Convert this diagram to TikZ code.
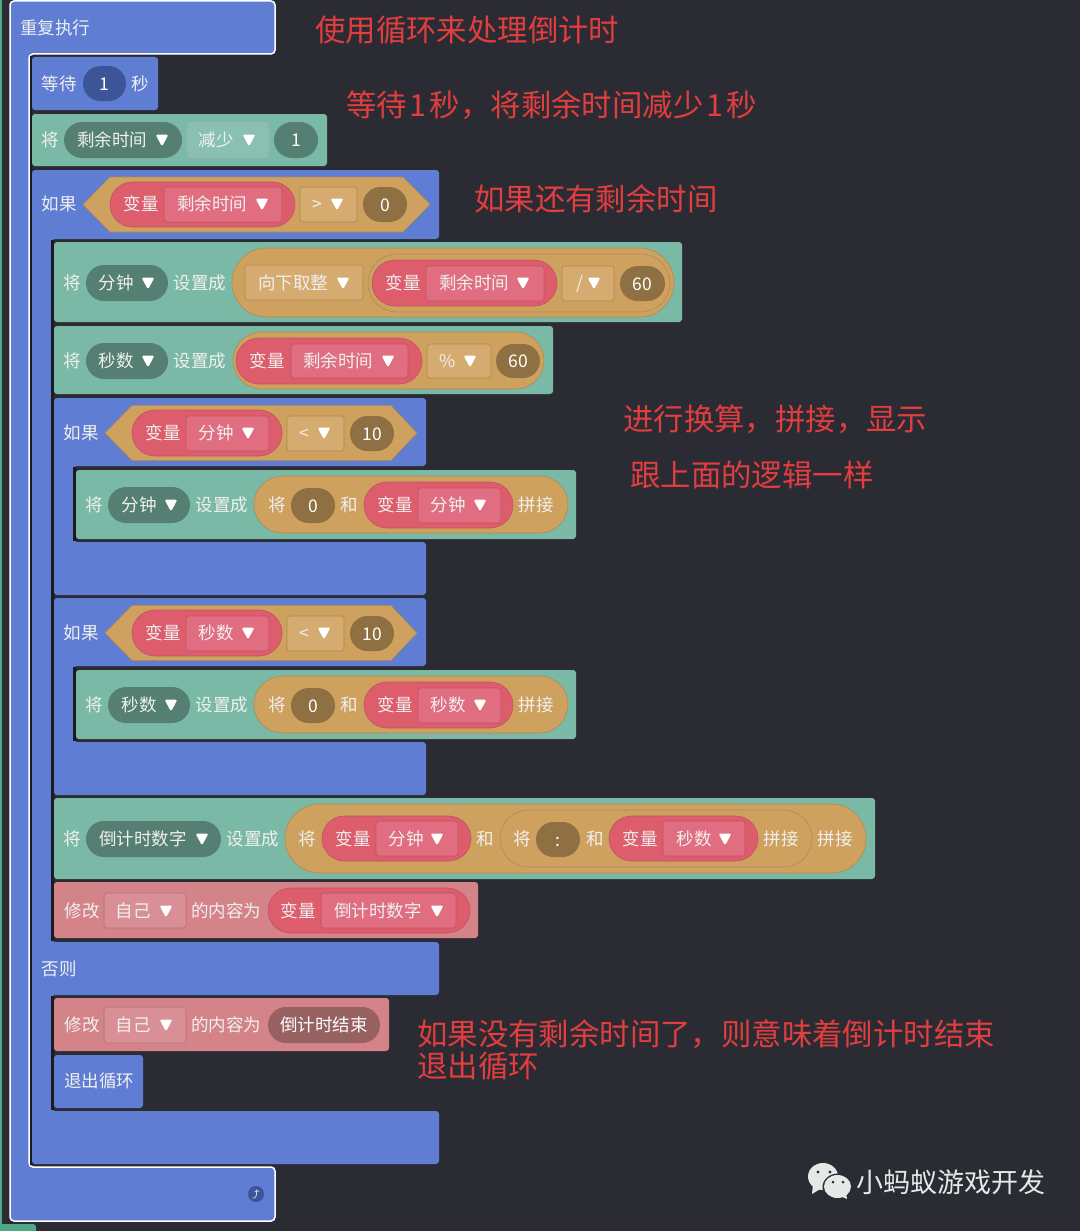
\documentclass[tikz,border=0pt]{standalone}
\usepackage{fontspec}
\setmainfont{Noto Sans CJK SC}
\usetikzlibrary{shapes.misc, positioning}

\definecolor{bgdark}{HTML}{2B2C33}
\definecolor{shadow}{HTML}{1B1C21}
\definecolor{stripgreen}{HTML}{4FA987}
\definecolor{ctrlblue}{HTML}{5E7DD3}
\definecolor{ctrlbluedark}{HTML}{3B5596}
\definecolor{vargreen}{HTML}{7BB9A7}
\definecolor{vargreendark}{HTML}{547F72}
\definecolor{vargreenlight}{HTML}{8AC0B1}
\definecolor{optan}{HTML}{CEA15F}
\definecolor{optanline}{HTML}{B08A52}
\definecolor{optanlight}{HTML}{D5AB70}
\definecolor{optandark}{HTML}{8E7042}
\definecolor{getred}{HTML}{DD5D6D}
\definecolor{getredline}{HTML}{BE5362}
\definecolor{getredlight}{HTML}{E06E80}
\definecolor{lookpink}{HTML}{D48488}
\definecolor{lookpinklight}{HTML}{D88F96}
\definecolor{lookpinkdark}{HTML}{976162}
\definecolor{notered}{HTML}{E23D3F}
\definecolor{marktext}{HTML}{E6E8E8}

\tikzstyle{object} = [
rectangle,
rounded corners=3pt,
inner sep=0pt,
outer sep=0pt]
\tikzstyle{pill} = [
rounded rectangle,
inner sep=0pt,
outer sep=0pt,
text=white,
font=\fontsize{17.5}{20}\selectfont,
text height=15pt,
text depth=2pt]
\tikzstyle{lbl} = [
inner sep=0pt,
text=white!94!black,
font=\fontsize{17.5}{20}\selectfont,
text height=15pt,
text depth=2pt]
\tikzstyle{note} = [
anchor=west,
inner sep=0pt,
text=notered,
font=\fontsize{30.4}{32}\selectfont,
text height=26pt,
text depth=3pt]
\tikzstyle{greenbox} = [object, fill=vargreen]
\tikzstyle{bluebox} = [object, fill=ctrlblue]
\tikzstyle{pinkbox} = [object, fill=lookpink]
\tikzstyle{greenmenu} = [object, fill=vargreenlight, draw=vargreendark!60, line width=0.6pt]
\tikzstyle{tanmenu} = [object, fill=optanlight, draw=optanline, line width=0.6pt]
\tikzstyle{redmenu} = [object, fill=getredlight, draw=getredline, line width=0.6pt]
\tikzstyle{pinkmenu} = [object, fill=lookpinklight, draw=lookpink!85!black, line width=0.6pt]
\tikzstyle{greenpill} = [pill, fill=vargreendark]
\tikzstyle{tanpill} = [pill, fill=optandark]
\tikzstyle{outerpill} = [pill, fill=optan, draw=optanline, line width=0.6pt]
\tikzstyle{redpill} = [pill, fill=getred, draw=getredline, line width=0.6pt]
\tikzstyle{shade} = [draw=shadow, line width=2.5pt]

\tikzset{dd/.pic={
\fill[white, rounded corners=2.2pt] (-6.5,-5.5) -- (6.5,-5.5) -- (0,6.5) -- cycle;}}

% style, name, left, top, right, bottom, text
\newcommand{\bx}[7]{%
\pgfmathsetmacro{\bxw}{(#5)-(#3)}%
\pgfmathsetmacro{\bxh}{(#6)-(#4)}%
\node[#1, minimum width=\bxw pt, minimum height=\bxh pt] (#2) at ({((#3)+(#5))/2},{((#4)+(#6))/2}) {#7};}

% hexagon of a condition: left tip, inner left, inner right, right tip, mid y, half height
\newcommand{\hexa}[6]{%
\draw[fill=optan, draw=optanline, line width=0.6pt] (#1,#5) -- (#2,#5-#6) -- (#3,#5-#6) -- (#4,#5)
    -- (#3,#5+#6) -- (#2,#5+#6) -- cycle;}

\begin{document}
\begin{tikzpicture}[x=1pt, y=-1pt]

\fill[bgdark] (0,0) rectangle (1080,1231);
\useasboundingbox (0,0) rectangle (1080,1231);
\fill[stripgreen] (0,0) rectangle (2,1231);
\fill[stripgreen, rounded corners=3pt] (0,1240) -- (0,1224) -- (36,1224) -- (36,1240) -- cycle;

% outer loop
\draw[fill=ctrlblue, draw=white, line width=1.5pt, rounded corners=4pt]
    (10,1) -- (275,1) -- (275,54) -- (29,54) -- (29,1167) -- (275,1167) -- (275,1221) -- (10,1221) -- cycle;
\draw[shade] (31,56) -- (31,1165);
\node[lbl, anchor=west] (loopText) at (20,28) {重复执行};
\node[circle, fill=ctrlbluedark, minimum size=16pt, inner sep=0pt] (loopIcon) at (256,1194) {};
\draw[white!70!ctrlblue, line width=0.8pt, ->] (252.5,1198) .. controls (256,1199) and (257,1195) .. (256.5,1189.5);

\bx{bluebox}{waitBlock}{32}{57}{158}{110}{}
\node[lbl] (waitText) at (59,84) {等待};
\bx{pill, fill=ctrlbluedark}{waitNum}{83}{66}{126}{101}{1}
\node[lbl] (waitUnit) at (140,84) {秒};

\bx{greenbox}{decBlock}{32}{114}{327}{166}{}
\node[lbl] (decText) at (50,140) {将};
\bx{greenpill}{decVar}{64}{122}{182}{158}{}
\node[lbl] (decVarText) at (112,140) {剩余时间};
\pic at (162,140) {dd};
\bx{greenmenu}{decMenu}{187}{122}{269}{158}{}
\node[lbl] (decMenuText) at (216,140) {减少};
\pic at (249,140) {dd};
\bx{greenpill}{decNum}{274}{122}{318}{158}{1}

% if ... else
\fill[ctrlblue, rounded corners=3pt] (32,170) -- (439,170) -- (439,239) -- (52,239) -- (52,942)
    -- (439,942) -- (439,995) -- (52,995) -- (52,1111) -- (439,1111) -- (439,1164) -- (32,1164) -- cycle;
\draw[shade] (52.5,240) -- (52.5,941);
\draw[shade] (52.5,996) -- (52.5,1110);
\node[lbl] (ifText) at (59,204) {如果};
\hexa{83}{110}{403}{430}{204.5}{27.5}
\bx{redpill}{ifVar}{110}{182}{295}{227}{}
\node[lbl] (ifVarText) at (141,204) {变量};
\bx{redmenu}{ifMenu}{164}{187}{282}{222}{}
\node[lbl] (ifMenuText) at (212,204) {剩余时间};
\pic at (262,204) {dd};
\bx{tanmenu}{ifOp}{300}{187}{357}{222}{}
\node[lbl] (ifOpText) at (317,204) {>};
\pic at (337,204) {dd};
\bx{tanpill}{ifNum}{363}{187}{407}{222}{0}
\node[lbl] (elseText) at (59,969) {否则};

% minutes
\bx{greenbox}{minBlock}{54}{242}{682}{322}{}
\node[lbl] (minText) at (72,283) {将};
\bx{greenpill}{minVar}{86}{265}{168}{301}{}
\node[lbl] (minVarText) at (116,283) {分钟};
\pic at (148,283) {dd};
\node[lbl] (minSet) at (200,283) {设置成};
\bx{outerpill}{minOuter}{232}{248}{674}{317}{}
\bx{tanmenu}{minFloor}{245}{265}{363}{300}{}
\node[lbl] (minFloorText) at (293,283) {向下取整};
\pic at (343,283) {dd};
\bx{outerpill}{minInner}{368}{254}{670}{312}{}
\bx{redpill}{minRed}{372}{260}{557}{306}{}
\node[lbl] (minRedText) at (403,283) {变量};
\bx{redmenu}{minMenu}{426}{266}{544}{301}{}
\node[lbl] (minMenuText) at (474,283) {剩余时间};
\pic at (523,283) {dd};
\bx{tanmenu}{minOp}{562}{266}{614}{301}{}
\node[lbl] (minOpText) at (580,283) {/};
\pic at (594,283) {dd};
\bx{tanpill}{minNum}{620}{266}{665}{301}{60}

% seconds
\bx{greenbox}{secBlock}{54}{326}{553}{394}{}
\node[lbl] (secText) at (72,361) {将};
\bx{greenpill}{secVar}{86}{343}{168}{379}{}
\node[lbl] (secVarText) at (116,361) {秒数};
\pic at (148,361) {dd};
\node[lbl] (secSet) at (200,361) {设置成};
\bx{outerpill}{secOuter}{233}{332}{544}{389}{}
\bx{redpill}{secRed}{236}{338}{422}{384}{}
\node[lbl] (secRedText) at (267,361) {变量};
\bx{redmenu}{secMenu}{291}{344}{408}{378}{}
\node[lbl] (secMenuText) at (338,361) {剩余时间};
\pic at (388,361) {dd};
\bx{tanmenu}{secOp}{427}{344}{491}{378}{}
\node[lbl] (secOpText) at (448,361) {\%};
\pic at (470,361) {dd};
\bx{tanpill}{secNum}{496}{344}{540}{378}{60}

% both padding checks
\foreach \dy/\word/\tag in {0/分钟/a, 200/秒数/b} {
\fill[ctrlblue, rounded corners=3pt] (54,398+\dy) -- (426,398+\dy) -- (426,466+\dy) -- (74,466+\dy) -- (74,542+\dy)
    -- (426,542+\dy) -- (426,595+\dy) -- (54,595+\dy) -- cycle;
\draw[shade] (74.5,467+\dy) -- (74.5,541+\dy);
\node[lbl] (padIf\tag) at (81,433+\dy) {如果};
\hexa{105}{132}{391}{417}{433+\dy}{27.5}
\bx{redpill}{padRed\tag}{132}{410+\dy}{282}{456+\dy}{}
\node[lbl] (padRedText\tag) at (163,433+\dy) {变量};
\bx{redmenu}{padMenu\tag}{186}{416+\dy}{269}{451+\dy}{}
\node[lbl] (padMenuText\tag) at (216,433+\dy) {\word};
\pic at (248,433+\dy) {dd};
\bx{tanmenu}{padOp\tag}{287}{416+\dy}{344}{451+\dy}{}
\node[lbl] (padOpText\tag) at (304,433+\dy) {<};
\pic at (324,433+\dy) {dd};
\bx{tanpill}{padNum\tag}{350}{416+\dy}{394}{451+\dy}{10}
\bx{greenbox}{padSet\tag}{76}{470+\dy}{576}{539+\dy}{}
\node[lbl] (padSetText\tag) at (94,505+\dy) {将};
\bx{greenpill}{padVar\tag}{108}{487+\dy}{190}{523+\dy}{}
\node[lbl] (padVarText\tag) at (139,505+\dy) {\word};
\pic at (171,505+\dy) {dd};
\node[lbl] (padTo\tag) at (222,505+\dy) {设置成};
\bx{outerpill}{padOuter\tag}{254}{476+\dy}{568}{533+\dy}{}
\node[lbl] (padJoin\tag) at (277,505+\dy) {将};
\bx{tanpill}{padZero\tag}{291}{488+\dy}{335}{523+\dy}{0}
\node[lbl] (padAnd\tag) at (349,505+\dy) {和};
\bx{redpill}{padJoinRed\tag}{364}{482+\dy}{513}{528+\dy}{}
\node[lbl] (padJoinRedText\tag) at (395,505+\dy) {变量};
\bx{redmenu}{padJoinMenu\tag}{418}{488+\dy}{501}{523+\dy}{}
\node[lbl] (padJoinMenuText\tag) at (448,505+\dy) {\word};
\pic at (480,505+\dy) {dd};
\node[lbl] (padEnd\tag) at (536,505+\dy) {拼接};
}

% countdown digits
\bx{greenbox}{numBlock}{54}{798}{875}{879}{}
\node[lbl] (numText) at (72,839) {将};
\bx{greenpill}{numVar}{86}{821}{221}{857}{}
\node[lbl] (numVarText) at (143,839) {倒计时数字};
\pic at (202,839) {dd};
\node[lbl] (numSet) at (253,839) {设置成};
\bx{outerpill}{numOuter}{285}{804}{866}{873}{}
\node[lbl] (numJoin) at (307,839) {将};
\bx{redpill}{numRed}{322}{816}{471}{861}{}
\node[lbl] (numRedText) at (353,839) {变量};
\bx{redmenu}{numMenu}{376}{821}{458}{856}{}
\node[lbl] (numMenuText) at (406,839) {分钟};
\pic at (437,839) {dd};
\node[lbl] (numAnd) at (485,839) {和};
\bx{outerpill}{numInner}{500}{810}{812}{867}{}
\node[lbl] (numJoinIn) at (522,839) {将};
\bx{tanpill}{numColon}{536}{822}{580}{857}{:}
\node[lbl] (numAndIn) at (595,839) {和};
\bx{redpill}{numRedIn}{609}{816}{758}{861}{}
\node[lbl] (numRedInText) at (640,839) {变量};
\bx{redmenu}{numMenuIn}{663}{821}{745}{856}{}
\node[lbl] (numMenuInText) at (694,839) {秒数};
\pic at (725,839) {dd};
\node[lbl] (numEndIn) at (781,839) {拼接};
\node[lbl] (numEnd) at (835,839) {拼接};

% own text
\bx{pinkbox}{textBlock}{54}{882}{478}{938}{}
\node[lbl] (textText) at (82,911) {修改};
\bx{pinkmenu}{textSelf}{104}{893}{186}{928}{}
\node[lbl] (textSelfText) at (133,911) {自己};
\pic at (166,911) {dd};
\node[lbl] (textTo) at (226,911) {的内容为};
\bx{redpill}{textRed}{268}{888}{470}{933}{}
\node[lbl] (textRedText) at (298,911) {变量};
\bx{redmenu}{textMenu}{321}{893}{456}{928}{}
\node[lbl] (textMenuText) at (378,911) {倒计时数字};
\pic at (437,911) {dd};

% else part
\bx{pinkbox}{endBlock}{54}{998}{389}{1051}{}
\node[lbl] (endText) at (82,1025) {修改};
\bx{pinkmenu}{endSelf}{104}{1007}{186}{1043}{}
\node[lbl] (endSelfText) at (133,1025) {自己};
\pic at (166,1025) {dd};
\node[lbl] (endTo) at (226,1025) {的内容为};
\bx{pill, fill=lookpinkdark}{endValue}{268}{1007}{380}{1043}{倒计时结束}
\bx{bluebox}{breakBlock}{54}{1055}{143}{1108}{}
\node[lbl] (breakText) at (99,1081) {退出循环};

% red remarks
\node[note] (noteLoop) at (315,30) {使用循环来处理倒计时};
\node[note] (noteWait) at (346,105) {等待\hspace{3pt}1\hspace{3pt}秒，将剩余时间减少\hspace{3pt}1\hspace{3pt}秒};
\node[note] (noteIf) at (474,199) {如果还有剩余时间};
\node[note] (noteCalc) at (623,419) {进行换算，拼接，显示};
\node[note] (noteSame) at (630,475) {跟上面的逻辑一样};
\node[note] (noteEnd) at (417,1034) {如果没有剩余时间了，则意味着倒计时结束};
\node[note] (noteExit) at (417,1066) {退出循环};

% mark
\fill[marktext] (813,1184) -- (812,1194) -- (822,1188) -- cycle;
\fill[marktext] (823,1176.5) ellipse (15 and 13.5);
\fill[bgdark] (838,1187) ellipse (15.5 and 13.5);
\fill[marktext] (846,1193) -- (847,1199) -- (840,1196) -- cycle;
\fill[marktext] (837.5,1186.5) ellipse (13.5 and 11.5);
\fill[bgdark] (818,1172) circle (1.7);
\fill[bgdark] (830,1172) circle (1.7);
\fill[bgdark] (833,1182) circle (1.5);
\fill[bgdark] (843,1182) circle (1.5);
\node[inner sep=0pt, anchor=west, text=marktext, font=\fontsize{27}{30}\selectfont, text height=24pt, text depth=3pt] (markText) at (856,1182) {小蚂蚁游戏开发};

\end{tikzpicture}
\end{document}
